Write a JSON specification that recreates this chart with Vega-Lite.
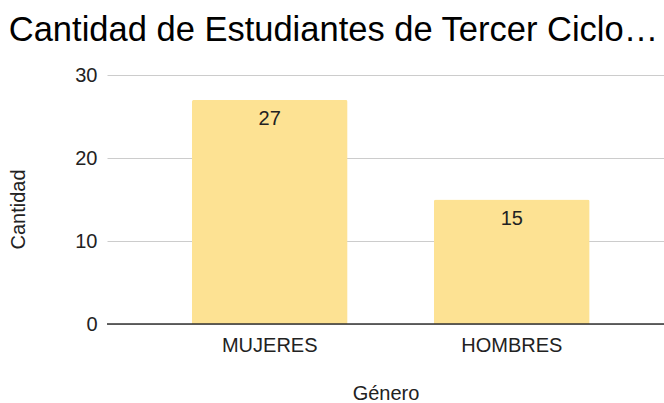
{
  "$schema": "https://vega.github.io/schema/vega-lite/v6.json",
  "width": 557,
  "height": 249,
  "autosize": "none",
  "padding": {"left": 107, "top": 75, "right": 0, "bottom": 79},
  "background": "white",
  "title": {
    "text": "Cantidad de Estudiantes de Tercer Ciclo…",
    "anchor": "start",
    "offset": 17,
    "font": "Liberation Sans",
    "fontSize": 34.5,
    "fontWeight": "normal",
    "color": "#000000"
  },
  "config": {
    "view": {"stroke": null},
    "font": "Liberation Sans",
    "axis": {
      "labelFont": "Liberation Sans",
      "titleFont": "Liberation Sans",
      "labelFontSize": 20,
      "titleFontSize": 20,
      "labelColor": "#222222",
      "titleColor": "#222222",
      "titleFontWeight": "normal"
    }
  },
  "data": {
    "values": [
      {"Genero": "MUJERES", "Cantidad": 27},
      {"Genero": "HOMBRES", "Cantidad": 15}
    ]
  },
  "encoding": {
    "x": {
      "field": "Genero",
      "type": "nominal",
      "sort": null,
      "title": "Género",
      "scale": {"paddingInner": 0.357, "paddingOuter": 0.329, "align": 0.533},
      "axis": {
        "labelAngle": 0,
        "ticks": false,
        "domain": false,
        "labelPadding": 11,
        "titlePadding": 28
      }
    },
    "y": {
      "field": "Cantidad",
      "type": "quantitative",
      "title": "Cantidad",
      "scale": {"domain": [0, 30]},
      "axis": {
        "values": [0, 10, 20, 30],
        "ticks": false,
        "domain": false,
        "labelPadding": 10,
        "gridColor": "#cccccc",
        "titlePadding": 46,
        "titleY": 134
      }
    }
  },
  "layer": [
    {
      "mark": {"type": "bar", "color": "#fde293", "cornerRadiusTopLeft": 2, "cornerRadiusTopRight": 2}
    },
    {
      "mark": {"type": "rule", "color": "#333333", "strokeWidth": 1},
      "encoding": {"x": null, "y": {"datum": 0, "type": "quantitative"}}
    },
    {
      "mark": {"type": "text", "baseline": "top", "dy": 9, "fontSize": 20, "color": "#222222", "font": "Liberation Sans"},
      "encoding": {"text": {"field": "Cantidad", "type": "quantitative"}}
    }
  ]
}
